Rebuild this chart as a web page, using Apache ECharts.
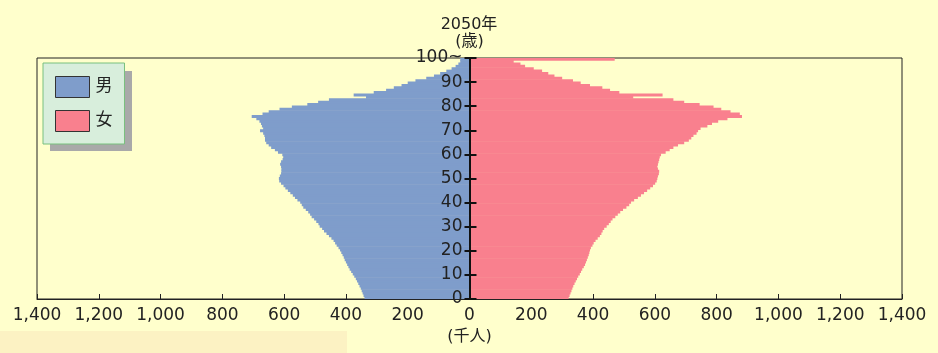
<!DOCTYPE html>
<html>
<head>
<meta charset="utf-8">
<script src="https://cdn.jsdelivr.net/npm/echarts@6/dist/echarts.min.js"></script>
<style>
html,body{margin:0;padding:0;background:#ffffcc;}
#chart{width:938px;height:353px;}
</style>
</head>
<body>
<div id="chart"></div>
<script>
// ages 0 .. 100 (100 = "100~")
const ages = Array.from({length: 101}, (_, i) => String(i));
const yearTitle = '2050年';
const ageTicks = [0,10,20,30,40,50,60,70,80,90,100];

// male population (thousand), age 0 .. 100+
const male = [
 340,343,346,349,352,356,360,364,368,373,
 378,383,388,392,396,400,404,407,411,415,
 419,424,430,435,440,447,455,463,471,477,
 485,489,496,503,511,516,522,530,538,543,
 548,557,565,572,580,588,596,602,610,616,
 617,614,610,609,609,610,613,610,605,603,
 606,620,630,642,650,658,662,662,664,668,
 678,668,672,675,680,690,705,670,650,615,
 575,525,490,455,335,375,310,270,245,220,
 200,175,140,115,95,75,58,45,36,30,
 30
];
// female population (thousand), age 0 .. 100+
const female = [
 321,324,327,330,333,336,340,344,348,352,
 357,361,365,370,374,377,380,383,386,388,
 390,393,398,402,408,415,422,427,431,436,
 444,451,457,463,472,480,488,497,508,517,
 523,533,545,555,565,575,585,594,601,606,
 608,610,613,614,610,608,610,612,614,616,
 620,635,648,660,675,695,710,718,725,735,
 740,748,770,785,805,835,882,875,845,815,
 790,745,695,660,530,625,485,455,430,390,
 360,335,300,275,255,235,208,180,165,143,
 470
];

const FONT = 'DejaVu Sans, "Noto Sans CJK JP", sans-serif';
const GRID_L = 37, GRID_R = 36, W = 938;
const XMIN = -1400, XMAX = 1400;
// shift the age axis from the grid's left edge to the x = 0 line
const zeroOffset = -((W - GRID_L - GRID_R) * (0 - XMIN) / (XMAX - XMIN));

const chart = echarts.init(document.getElementById('chart'), null, {renderer: 'canvas'});
const fmt = v => Math.abs(v).toLocaleString('en-US');

chart.setOption({
  backgroundColor: '#ffffcc',
  animation: false,
  title: {
    text: yearTitle,
    left: 'center',
    top: 12,
    textStyle: {fontFamily: FONT, fontSize: 16, fontWeight: 'normal', color: '#222'}
  },
  legend: {
    orient: 'vertical',
    left: 43, top: 63, z: 10,
    padding: [13, 12, 12, 12],
    itemWidth: 34, itemHeight: 21, itemGap: 12,
    icon: 'rect',
    backgroundColor: '#d8eedc',
    borderColor: '#79c07e', borderWidth: 1,
    itemStyle: {borderColor: '#333', borderWidth: 1},
    textStyle: {fontFamily: FONT, fontSize: 17, color: '#222', padding: [0,0,0,1]},
    data: ['男', '女']
  },
  graphic: [{
    type: 'rect', z: -10, silent: true,
    shape: {x: 0, y: 331, width: 347, height: 22},
    style: {fill: '#fcf2c3'}
  }, {
    // legend drop shadow
    type: 'rect', z: 9, silent: true,
    shape: {x: 50, y: 71, width: 82, height: 80},
    style: {fill: '#a9a9a9'}
  }],
  grid: {
    left: GRID_L, right: GRID_R, top: 58, bottom: 54,
    show: true, borderColor: '#222', borderWidth: 1, backgroundColor: 'transparent'
  },
  xAxis: {
    type: 'value', min: XMIN, max: XMAX, interval: 200,
    name: '(千人)', nameLocation: 'middle', nameGap: 30,
    nameTextStyle: {fontFamily: FONT, fontSize: 16, color: '#222'},
    axisLine: {show: true, onZero: false, lineStyle: {color: '#222', width: 1}},
    axisTick: {show: true, inside: true, length: 5, lineStyle: {color: '#222'}},
    axisLabel: {formatter: fmt, margin: 8, fontFamily: FONT, fontSize: 17, color: '#222'},
    splitLine: {show: false}
  },
  yAxis: [{
    type: 'category', data: ages, show: false
  }, {
    type: 'value', min: 0, max: 100, interval: 10, position: 'left', offset: zeroOffset,
    name: '(歳)', nameLocation: 'end', nameGap: 6,
    nameTextStyle: {fontFamily: FONT, fontSize: 16, color: '#222'},
    axisLine: {show: true, onZero: false, lineStyle: {color: '#111', width: 2}},
    axisTick: {show: true, inside: false, length: 5, lineStyle: {color: '#111', width: 2}},
    axisLabel: {
      margin: 7, fontFamily: FONT, fontSize: 17, color: '#222',
      formatter: v => ageTicks.indexOf(v) < 0 ? '' : (v === 100 ? '100~' : String(v))
    },
    splitLine: {show: false}, z: 5
  }, {
    type: 'value', min: 0, max: 100, interval: 10, position: 'left', offset: zeroOffset,
    axisLine: {show: false, onZero: false},
    axisTick: {show: true, inside: true, length: 7, lineStyle: {color: '#111', width: 2}},
    axisLabel: {show: false},
    splitLine: {show: false}, z: 5
  }],
  series: [{
    name: '男', type: 'bar', yAxisIndex: 0,
    barWidth: 3, barGap: '-100%',
    itemStyle: {color: '#7f9dcb'},
    data: male.map(v => -v)
  }, {
    name: '女', type: 'bar', yAxisIndex: 0,
    barWidth: 3, barGap: '-100%',
    itemStyle: {color: '#f9808e'},
    data: female
  }]
});
</script>
</body>
</html>
